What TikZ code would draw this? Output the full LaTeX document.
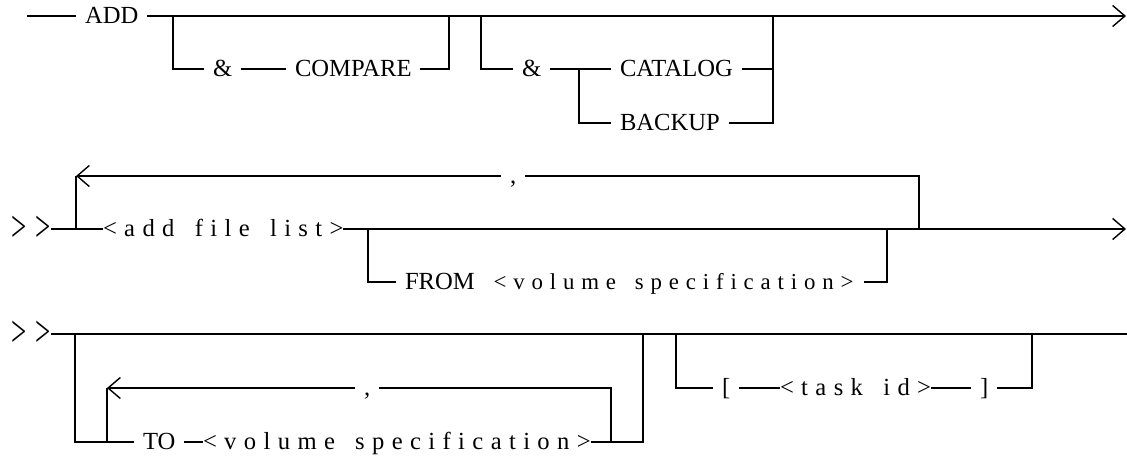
\documentclass[tikz,border=0pt]{standalone}
\usepackage{fontspec}
\setmainfont{Liberation Serif}
\newfontfamily\spacedfont[LetterSpace=30, WordSpace=1.5]{Liberation Serif}
\usetikzlibrary{arrows.meta}

\begin{document}
\begin{tikzpicture}[
    x=0.02cm, y=-0.02cm,
    line width=0.8pt,
    kw/.style={font=\fontsize{14}{17}\selectfont, inner sep=0pt, outer ysep=0pt,
        outer xsep=5pt, xshift=-5pt, text height=9pt, text depth=0pt, anchor=west},
    var/.style={font=\spacedfont\fontsize{14}{17}\selectfont, inner sep=0pt, outer sep=0pt,
        text height=9pt, text depth=0pt, anchor=west},
    cont/.style={font=\fontsize{14}{17}\selectfont, inner sep=0pt, outer sep=0pt, anchor=west},
    fwd/.style={-{Straight Barb[length=7pt, width=12pt]}},
    back/.style={{Straight Barb[length=7pt, width=12pt]}-},
]
\newcommand\gtgt{\scalebox{1.1}[1.8]{>}\hspace{5.5pt}\scalebox{1.1}[1.8]{>}}
\useasboundingbox (0,0) rectangle (1127,457);

% ---------------- first line: ADD and its options
\coordinate (s1) at (27,16);
\node[kw] (add) at (85,16) {ADD};
\coordinate (e1) at (1126,16);
\draw (s1) -- (add);
\draw[fwd] (add) -- (e1);

\coordinate (b1) at (173,16);
\node[kw] (amp1) at (213,69) {\&};
\node[kw] (cmp) at (295,69) {COMPARE};
\coordinate (m1) at (449,16);
\draw (b1) |- (amp1);
\draw (amp1) -- (cmp);
\draw (cmp) -| (m1);

\coordinate (b2) at (481,16);
\node[kw] (amp2) at (522,69) {\&};
\coordinate (b3) at (579,69);
\node[kw] (cat) at (620,69) {CATALOG};
\node[kw] (bak) at (620,123) {BACKUP};
\coordinate (m2) at (773,16);
\draw (b2) |- (amp2);
\draw (amp2) -- (cat);
\draw (b3) |- (bak);
\draw (cat) -| (m2);
\draw (bak) -| (m2);

% ---------------- second line: file list, repeated with commas
\node[cont] (gt2) at (11,229) {\gtgt};
\node[var] (afl) at (103,229) {<add file list>};
\coordinate (e2) at (1126,229);
\draw (gt2) -- (afl);
\draw[fwd] (afl) -- (e2);

\coordinate (l1) at (76,229);
\coordinate (l1t) at (76,176);
\node[kw] (cm1) at (510,176) {,};
\coordinate (r1) at (919,229);
\draw (l1) -- (l1t);
\draw[back] (l1t) -- (cm1);
\draw (cm1) -| (r1);

\coordinate (f1) at (368,229);
\node[kw] (from) at (405,282) {FROM};
\node[var, font=\spacedfont\fontsize{13}{16}\selectfont, outer xsep=6pt] (vs1) at (483,282) {<volume specification>};
\coordinate (f2) at (887,229);
\draw (f1) |- (from);
\draw (vs1) -| (f2);

% ---------------- third line: destination and task id
\node[cont] (gt3) at (11,334) {\gtgt};
\coordinate (e3) at (1127,334);
\draw (gt3) -- (e3);

\coordinate (t1) at (75,334);
\node[kw] (to) at (143,442) {TO};
\node[var] (vs2) at (203,442) {<volume specification>};
\coordinate (t2) at (643,334);
\draw (t1) |- (to);
\draw (to) -- (vs2);
\draw (vs2) -| (t2);

\coordinate (l2) at (107,442);
\coordinate (l2t) at (107,388);
\node[kw] (cm2) at (364,388) {,};
\coordinate (r2) at (611,442);
\draw (l2) -- (l2t);
\draw[back] (l2t) -- (cm2);
\draw (cm2) -| (r2);

\coordinate (k1) at (676,334);
\node[kw] (lb) at (722,388) {[};
\node[var] (tid) at (780,388) {<task id>};
\node[kw] (rb) at (980,388) {]};
\coordinate (k2) at (1032,334);
\draw (k1) |- (lb);
\draw (lb) -- (tid);
\draw (tid) -- (rb);
\draw (rb) -| (k2);
\end{tikzpicture}
\end{document}
